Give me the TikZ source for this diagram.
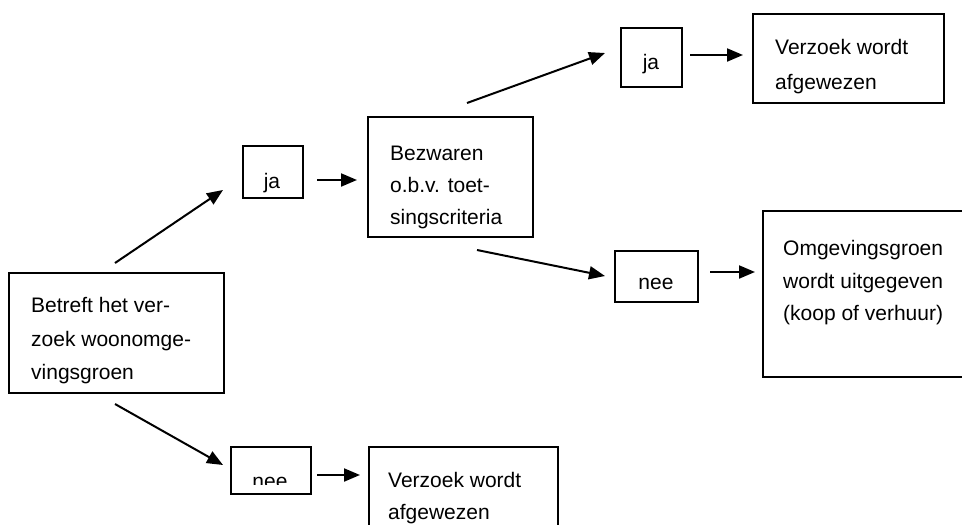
\documentclass[tikz,border=0pt]{standalone}
\usepackage{fontspec}
\setmainfont{Liberation Sans}
\usetikzlibrary{arrows.meta}
\begin{document}
\begin{tikzpicture}[x=1pt,y=-1pt,
  box/.style={draw, line width=1.4pt, anchor=north west, inner sep=0pt, outer sep=0pt},
  txt/.style={anchor=base west, inner sep=0pt, font=\fontsize{21}{24}\selectfont},
  ctxt/.style={anchor=base, inner sep=0pt, font=\fontsize{21}{24}\selectfont},
  conn/.style={line width=2pt, -{Triangle[length=16pt,width=13pt]}}]
\useasboundingbox (0,0) rectangle (962,525);
% boxes
\node[box, minimum width=215pt, minimum height=120pt] (betreft) at (9,273) {};
\node[box, minimum width=60pt, minimum height=52pt] (ja1) at (243,146) {};
\node[box, minimum width=165pt, minimum height=120pt] (bezw) at (368,117) {};
\node[box, minimum width=61pt, minimum height=59pt] (ja2) at (621,28) {};
\node[box, minimum width=191pt, minimum height=89pt] (verz1) at (753,14) {};
\node[box, minimum width=83pt, minimum height=51pt] (nee1) at (615,251) {};
\node[box, minimum width=210pt, minimum height=166pt] (omg) at (763,211) {};
\node[box, minimum width=80pt, minimum height=47pt] (nee2) at (231,447) {};
\node[box, minimum width=189pt, minimum height=100pt] (verz2) at (369,447) {};
% texts
\node[txt] (t1) at (31,312) {Betreft het ver-};
\node[txt] (t2) at (31,346) {zoek woonomge-};
\node[txt] (t3) at (31,379) {vingsgroen};
\node[ctxt] (tja1) at (272,188) {ja};
\node[txt] (b1) at (390,160) {Bezwaren};
\node[txt] (b2) at (390,192) {o.b.v. toet-};
\node[txt] (b3) at (390,224) {singscriteria};
\node[ctxt] (tja2) at (651,69) {ja};
\node[txt] (v1) at (775,54) {Verzoek wordt};
\node[txt] (v2) at (775,89) {afgewezen};
\node[ctxt] (tnee1) at (656,289) {nee};
\node[txt] (o1) at (783,255) {Omgevingsgroen};
\node[txt] (o2) at (783,288) {wordt uitgegeven};
\node[txt] (o3) at (783,320) {(koop of verhuur)};
\begin{scope}
\clip (231,447) rectangle (311,484);
\node[ctxt] (tnee2) at (270,488) {nee};
\end{scope}
\node[txt] (w1) at (388,487) {Verzoek wordt};
\node[txt] (w2) at (388,519) {afgewezen};
% connector ends
\coordinate (c1s) at (115,263); \coordinate (c1e) at (223,190);
\coordinate (c2s) at (317,180); \coordinate (c2e) at (357,180);
\coordinate (c3s) at (467,103); \coordinate (c3e) at (605,53);
\coordinate (c4s) at (690,55);  \coordinate (c4e) at (743,55);
\coordinate (c5s) at (477,250); \coordinate (c5e) at (605,276);
\coordinate (c6s) at (710,272); \coordinate (c6e) at (755,272);
\coordinate (c7s) at (115,404); \coordinate (c7e) at (223,465);
\coordinate (c8s) at (317,475); \coordinate (c8e) at (360,475);
\draw[conn] (c1s) -- (c1e);
\draw[conn] (c2s) -- (c2e);
\draw[conn] (c3s) -- (c3e);
\draw[conn] (c4s) -- (c4e);
\draw[conn] (c5s) -- (c5e);
\draw[conn] (c6s) -- (c6e);
\draw[conn] (c7s) -- (c7e);
\draw[conn] (c8s) -- (c8e);
\end{tikzpicture}
\end{document}
